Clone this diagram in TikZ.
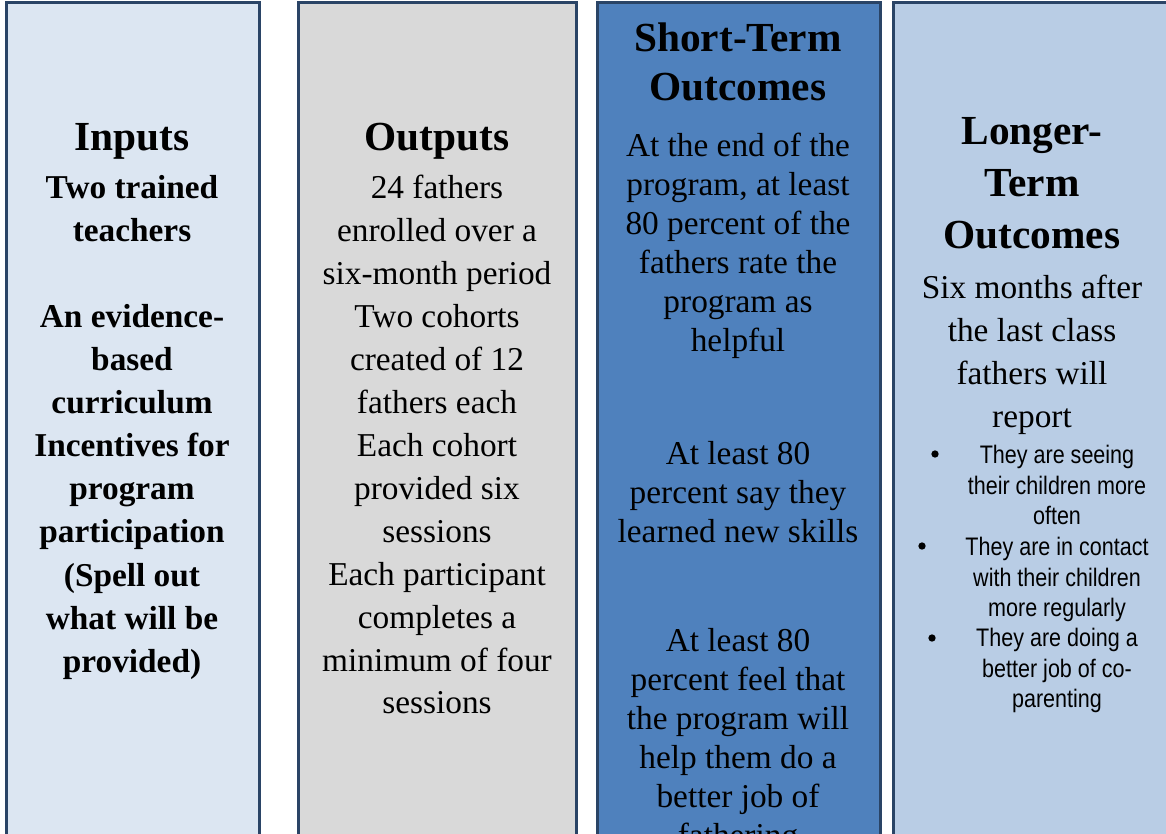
\documentclass[tikz,border=0pt]{standalone}
\usepackage{fontspec}
\setmainfont{Liberation Serif}
\newfontfamily\bulletfont{Liberation Sans}[FakeStretch=0.85]

\definecolor{inputfill}{HTML}{DCE6F2}
\definecolor{outputfill}{HTML}{D9D9D9}
\definecolor{shortfill}{HTML}{4F81BD}
\definecolor{longfill}{HTML}{B9CDE5}
\definecolor{colborder}{HTML}{2A4466}

\begin{document}
\begin{tikzpicture}[x=0.75pt,y=-0.75pt,
  column/.style={draw=colborder,line width=2.25pt},
  head/.style={anchor=north,inner sep=0pt,align=center,
    font=\bfseries\fontsize{31}{38}\selectfont},
  item/.style={anchor=north,inner sep=0pt,align=center,
    font=\fontsize{25}{32.2}\selectfont},
  bolditem/.style={item,font=\bfseries\fontsize{25}{32.3}\selectfont},
  tightitem/.style={item,font=\fontsize{25}{29.25}\selectfont},
  bullettext/.style={anchor=north,inner sep=0pt,align=center,
    font=\bulletfont\fontsize{19}{22.9}\selectfont},
  dot/.style={circle,fill=black,inner sep=0pt,minimum size=5.5pt}
]
  \useasboundingbox (0,0) rectangle (1166,834);
  \clip (0,0) rectangle (1166,834);

  % the four columns run off the bottom of the page
  \path[column,fill=inputfill]  (6,3)   rectangle (259,870);
  \path[column,fill=outputfill] (298,3) rectangle (576,870);
  \path[column,fill=shortfill]  (597,3) rectangle (880,870);
  \path[column,fill=longfill]   (893,3) rectangle (1190,870);

  % inputs
  \node[head] (inputs) at (132,123) {Inputs};
  \node[bolditem] (inlist) at (132,175) {Two trained\\teachers\\[32.3pt]
    An evidence-\\based\\curriculum\\Incentives for\\program\\participation\\
    (Spell out\\what will be\\provided)};

  % outputs
  \node[head] (outputs) at (437,123) {Outputs};
  \node[item] (outlist) at (437,175) {24 fathers\\enrolled over a\\six-month period\\
    Two cohorts\\created of 12\\fathers each\\Each cohort\\provided six\\sessions\\
    Each participant\\completes a\\minimum of four\\sessions};

  % short-term outcomes
  \node[head,font=\bfseries\fontsize{31}{36.75}\selectfont] (short) at (738,23)
    {Short-Term\\Outcomes};
  \node[tightitem] (rate) at (738,133) {At the end of the\\program, at least\\
    80 percent of the\\fathers rate the\\program as\\helpful};
  \node[tightitem] (skills) at (738,441) {At least 80\\percent say they\\learned new skills};
  \node[tightitem] (feel) at (738,628) {At least 80\\percent feel that\\the program will\\
    help them do a\\better job of\\fathering};

  % longer-term outcomes
  \node[head,font=\bfseries\fontsize{31}{39}\selectfont] (long) at (1032,117)
    {Longer-\\Term\\Outcomes};
  \node[item] (report) at (1032,275) {Six months after\\the last class\\fathers will\\report};
  \node[bullettext] (seeing) at (1057,445) {They are seeing\\their children more\\often};
  \node[bullettext] (contact) at (1057,537) {They are in contact\\with their children\\more regularly};
  \node[bullettext] (coparent) at (1057,628) {They are doing a\\better job of co-\\parenting};
  \node[dot] (d1) at (935,454) {};
  \node[dot] (d2) at (922,546) {};
  \node[dot] (d3) at (932,638) {};
\end{tikzpicture}
\end{document}
